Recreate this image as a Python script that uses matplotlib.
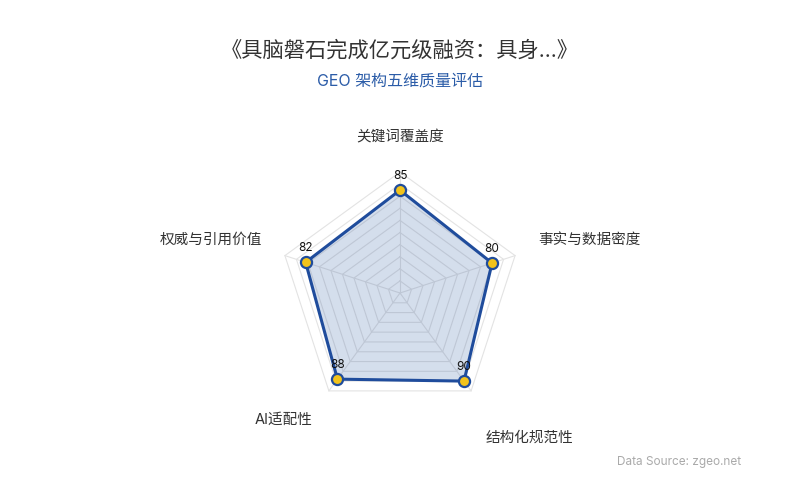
import numpy as np
import matplotlib.pyplot as plt

plt.rcParams['font.family'] = ['Inter', 'Noto Sans CJK SC', 'DejaVu Sans']

# data
categories = ['关键词覆盖度', '事实与数据密度', '结构化规范性', 'AI适配性', '权威与引用价值']
scores = [85, 80, 90, 88, 82]
max_score = 100
ring_levels = np.arange(10, 101, 10)

title = '《具脑磐石完成亿元级融资：具身...》'
subtitle = 'GEO 架构五维质量评估'
source = 'Data Source: zgeo.net'

# label placement (pixel offsets from outer vertex) and alignment
label_offsets = [(0, 35), (23, 16), (14, -47), (-16, -29), (-23, 16)]
label_ha = ['center', 'left', 'left', 'right', 'right']

line_color = '#1f4c9c'
fill_color = '#2c5aa0'
marker_color = '#f2c31b'
grid_color = '#e3e3e3'

n = len(categories)
angles = np.pi / 2 - np.arange(n) * 2 * np.pi / n

def to_xy(r, a):
    return r * np.cos(a), r * np.sin(a)

fig = plt.figure(figsize=(8, 5), dpi=100)
ax = fig.add_axes([0, 0, 1, 1])
scale = 1.21  # px per unit
ax.set_xlim(-400 / scale, 400 / scale)
ax.set_ylim(-207 / scale, 293 / scale)
ax.axis('off')

# grid rings and spokes
for lvl in ring_levels:
    xs, ys = to_xy(lvl, np.append(angles, angles[0]))
    ax.plot(xs, ys, color=grid_color, lw=0.8, zorder=1)
for a in angles:
    xs, ys = to_xy(np.array([0, max_score]), a)
    ax.plot(xs, ys, color=grid_color, lw=0.8, zorder=1)

# series
vals = np.array(scores, dtype=float)
px, py = to_xy(vals, angles)
ax.fill(px, py, color=fill_color, alpha=0.2, lw=0, zorder=2)
ax.plot(np.append(px, px[0]), np.append(py, py[0]), color=line_color, lw=2.2, zorder=3)
ax.plot(px, py, 'o', ms=8, mfc=marker_color, mec=line_color, mew=1.6, zorder=4)

for x, y, v in zip(px, py, scores):
    ax.annotate(str(v), (x, y), xytext=(0, 14), textcoords='offset pixels',
                ha='center', va='center', fontsize=8.5, color='#111111', zorder=5)

# category labels
for a, name, off, ha in zip(angles, categories, label_offsets, label_ha):
    vx, vy = to_xy(max_score, a)
    ax.annotate(name, (vx, vy), xytext=off, textcoords='offset pixels',
                ha=ha, va='center', fontsize=10.5, color='#333333')

fig.text(0.5, 1 - 50 / 500, title, ha='center', va='center', fontsize=15.3, color='#333333')
fig.text(0.5, 1 - 81 / 500, subtitle, ha='center', va='center', fontsize=11.5, color='#2b5ca8')
fig.text(741 / 800, 1 - 462 / 500, source, ha='right', va='center', fontsize=8.5, color='#aaaaaa')

fig.savefig('out.png', dpi=100)
